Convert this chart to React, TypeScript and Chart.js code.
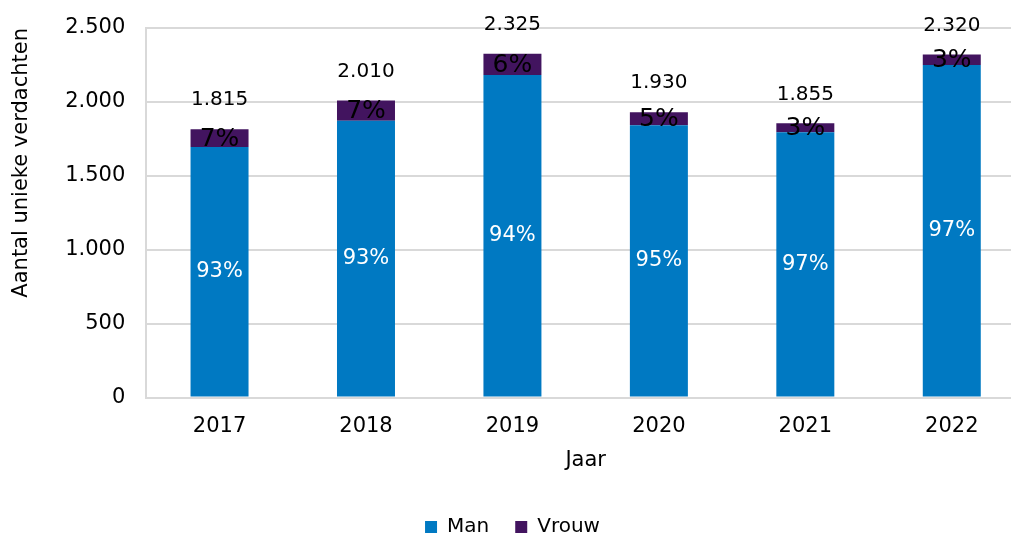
import React, { useEffect, useRef } from 'react';
import { Chart, registerables } from 'chart.js';

Chart.register(...registerables);

const years = ['2017', '2018', '2019', '2020', '2021', '2022'];
const manValues = [1695, 1872, 2182, 1842, 1795, 2250];
const vrouwValues = [120, 138, 143, 88, 60, 70];
const totalValues = [1815, 2010, 2325, 1930, 1855, 2320];
const manPctLabels = ['93%', '93%', '94%', '95%', '97%', '97%'];
const vrouwPctLabels = ['7%', '7%', '6%', '5%', '3%', '3%'];
const yMax = 2500;
const yStep = 500;

const FONT = '"DejaVu Sans", Verdana, sans-serif';
const BLUE = '#0079C2';
const PURPLE = '#42145F';
const GRID = '#D9D9D9';

const fmt = (v: number) => String(v).replace(/\B(?=(\d{3})+(?!\d))/g, '.');

const labelPlugin = {
  id: 'barLabels',
  afterDatasetsDraw(chart: any) {
    const ctx = chart.ctx;
    const yScale = chart.scales.y;
    const manMeta = chart.getDatasetMeta(0);
    const vrouwMeta = chart.getDatasetMeta(1);
    ctx.save();
    ctx.textAlign = 'center';
    ctx.textBaseline = 'middle';
    manMeta.data.forEach((bar: any, i: number) => {
      const p = bar.getProps(['x', 'y', 'base'], true);
      ctx.fillStyle = '#FFFFFF';
      ctx.font = `21px ${FONT}`;
      ctx.fillText(manPctLabels[i], p.x, (p.y + p.base) / 2);
    });
    vrouwMeta.data.forEach((bar: any, i: number) => {
      const p = bar.getProps(['x', 'y', 'base'], true);
      ctx.fillStyle = '#000000';
      ctx.font = `25px ${FONT}`;
      ctx.fillText(vrouwPctLabels[i], p.x, (p.y + p.base) / 2 + 1);
      ctx.font = `20px ${FONT}`;
      const ty = yScale.getPixelForValue(totalValues[i]) - 29;
      ctx.fillText(fmt(totalValues[i]), p.x, ty);
    });
    ctx.restore();
  },
};

export default function App() {
  const ref = useRef<HTMLCanvasElement | null>(null);

  useEffect(() => {
    if (!ref.current) return;
    Chart.defaults.font.family = FONT;
    Chart.defaults.font.size = 20;
    Chart.defaults.color = '#000000';
    const chart = new Chart(ref.current, {
      type: 'bar',
      data: {
        labels: years,
        datasets: [
          {
            label: 'Man',
            data: manValues,
            backgroundColor: BLUE,
            borderWidth: 0,
            categoryPercentage: 1,
            barPercentage: 0.396,
          },
          {
            label: 'Vrouw',
            data: vrouwValues,
            backgroundColor: PURPLE,
            borderWidth: 0,
            categoryPercentage: 1,
            barPercentage: 0.396,
          },
        ],
      },
      options: {
        responsive: false,
        animation: false,
        devicePixelRatio: 1,
        layout: { padding: { top: 28, left: 0, right: 0, bottom: 0 } },
        plugins: {
          legend: {
            position: 'bottom',
            labels: {
              boxWidth: 12,
              boxHeight: 12,
              padding: 26,
              font: { size: 20, family: FONT },
              color: '#000000',
            },
          },
          tooltip: { enabled: false },
        },
        scales: {
          x: {
            stacked: true,
            grid: { display: false, drawTicks: false },
            border: { display: true, color: GRID, width: 2 },
            ticks: { padding: 16, font: { size: 21 }, color: '#000000', maxRotation: 0 },
            title: {
              display: true,
              text: 'Jaar',
              font: { size: 21 },
              color: '#000000',
              padding: { top: -7, bottom: 18 },
            },
          },
          y: {
            stacked: true,
            min: 0,
            max: yMax,
            grid: { color: GRID, lineWidth: 2, drawTicks: false },
            border: { display: true, color: GRID, width: 2 },
            ticks: {
              stepSize: yStep,
              padding: 21,
              font: { size: 21, lineHeight: 0.6 },
              color: '#000000',
              callback: (v: any) => fmt(Number(v)),
            },
            title: {
              display: true,
              text: 'Aantal unieke verdachten',
              font: { size: 21 },
              color: '#000000',
              align: 'end',
              padding: { top: 9, bottom: 10 },
            },
          },
        },
      },
      plugins: [labelPlugin],
    });
    return () => chart.destroy();
  }, []);

  return (
    <div
      style={{
        position: 'absolute',
        left: 0,
        top: 0,
        width: 1011,
        height: 535,
        overflow: 'hidden',
        background: '#FFFFFF',
      }}
    >
      <canvas ref={ref} width={1025} height={547} style={{ display: 'block' }} />
    </div>
  );
}
